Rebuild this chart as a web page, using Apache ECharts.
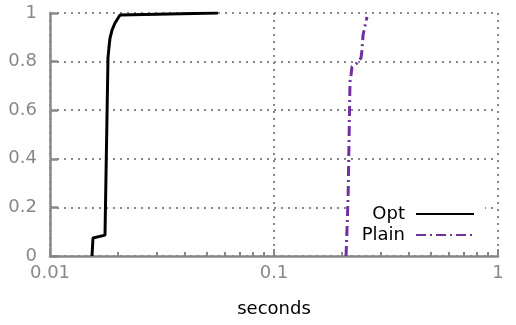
<!DOCTYPE html>
<html>
<head>
<meta charset="utf-8">
<script src="https://cdn.jsdelivr.net/npm/echarts@6/dist/echarts.min.js"></script>
<style>
  html, body { margin: 0; padding: 0; background: #fff; }
  #main-chart { width: 516px; height: 325px; }
</style>
</head>
<body>
<div id="main-chart"></div>
<script>
// ---- data ----
const optSeconds   = [0.0154, 0.01556, 0.0176, 0.01815, 0.01834, 0.01853, 0.01892, 0.01951, 0.02054, 0.0562];
const optFraction  = [0,      0.074,   0.086,  0.815,   0.860,   0.897,   0.930,   0.959,   0.992,   1.0];
const plainSeconds  = [0.2097, 0.2141, 0.2184, 0.2207, 0.2229, 0.2347, 0.2446, 0.2471, 0.2497, 0.2601];
const plainFraction = [0,      0.23,   0.716,  0.745,  0.778,  0.794,  0.815,  0.848,  0.909,  0.984];

const seriesNames = ['Opt', 'Plain'];
const xMajorTicks = [0.01, 0.1, 1];
const xMinorTicks = [0.02, 0.03, 0.04, 0.05, 0.06, 0.07, 0.08, 0.09,
                     0.2, 0.3, 0.4, 0.5, 0.6, 0.7, 0.8, 0.9];
const xLabels = ['0.01', '0.1', '1'];
const axisName = 'seconds';

const zip = (xs, ys) => xs.map((x, i) => [x, ys[i]]);

const GRAY = '#888888';
const FONT = 'DejaVu Sans';

const chart = echarts.init(document.getElementById('main-chart'));
chart.setOption({
    animation: false,
    backgroundColor: '#fff',
    grid: { left: 50, right: 18, top: 13, bottom: 69 },
    legend: {
        data: seriesNames,
        orient: 'vertical',
        align: 'right',
        right: 31,
        top: 200,
        padding: [5, 10, 5, 12],
        itemGap: 3,
        itemWidth: 58,
        itemHeight: 14,
        backgroundColor: '#fff',
        selectedMode: false,
        itemStyle: { opacity: 0 },
        textStyle: { color: '#000', fontSize: 18, fontFamily: FONT, padding: [0, 6, 0, 0] }
    },
    xAxis: [
        {
            type: 'log',
            logBase: 10,
            min: 0.01,
            max: 1,
            name: axisName,
            nameLocation: 'middle',
            nameGap: 44,
            nameTextStyle: { color: '#000', fontSize: 18, fontFamily: FONT },
            axisLine: { show: true, lineStyle: { color: GRAY, width: 2.5 } },
            axisTick: { show: true, inside: true, length: 7, lineStyle: { color: GRAY, width: 2 } },
            axisLabel: {
                color: GRAY, fontSize: 18, fontFamily: FONT, margin: 8,
                formatter: v => xLabels[xMajorTicks.findIndex(t => Math.abs(t - v) < 1e-9)] ?? ''
            },
            splitLine: { show: true, lineStyle: { color: GRAY, width: 2, type: [2, 5] } }
        },
        {
            // minor ticks only (2..9 of each decade)
            type: 'log',
            logBase: 10,
            min: 0.01,
            max: 1,
            position: 'bottom',
            axisLine: { show: false },
            axisLabel: { show: false },
            splitLine: { show: false },
            axisTick: {
                show: true, inside: true, length: 4,
                customValues: xMinorTicks,
                lineStyle: { color: GRAY, width: 2 }
            }
        }
    ],
    yAxis: {
        type: 'value',
        min: 0,
        max: 1,
        interval: 0.2,
        axisLine: { show: true, lineStyle: { color: GRAY, width: 2.5 } },
        axisTick: { show: true, inside: true, length: 8, lineStyle: { color: GRAY, width: 2.5 } },
        axisLabel: { color: GRAY, fontSize: 18, fontFamily: FONT, margin: 13 },
        splitLine: { show: true, lineStyle: { color: GRAY, width: 2, type: [2, 5] } }
    },
    series: [
        {
            name: seriesNames[0],
            type: 'line',
            data: zip(optSeconds, optFraction),
            symbol: 'none',
            lineStyle: { color: '#000', width: 3 },
            itemStyle: { color: '#000' }
        },
        {
            name: seriesNames[1],
            type: 'line',
            data: zip(plainSeconds, plainFraction),
            symbol: 'none',
            lineStyle: { color: '#7030a0', width: 3, type: [10, 4, 2, 4] },
            itemStyle: { color: '#7030a0' }
        }
    ]
});
</script>
</body>
</html>
